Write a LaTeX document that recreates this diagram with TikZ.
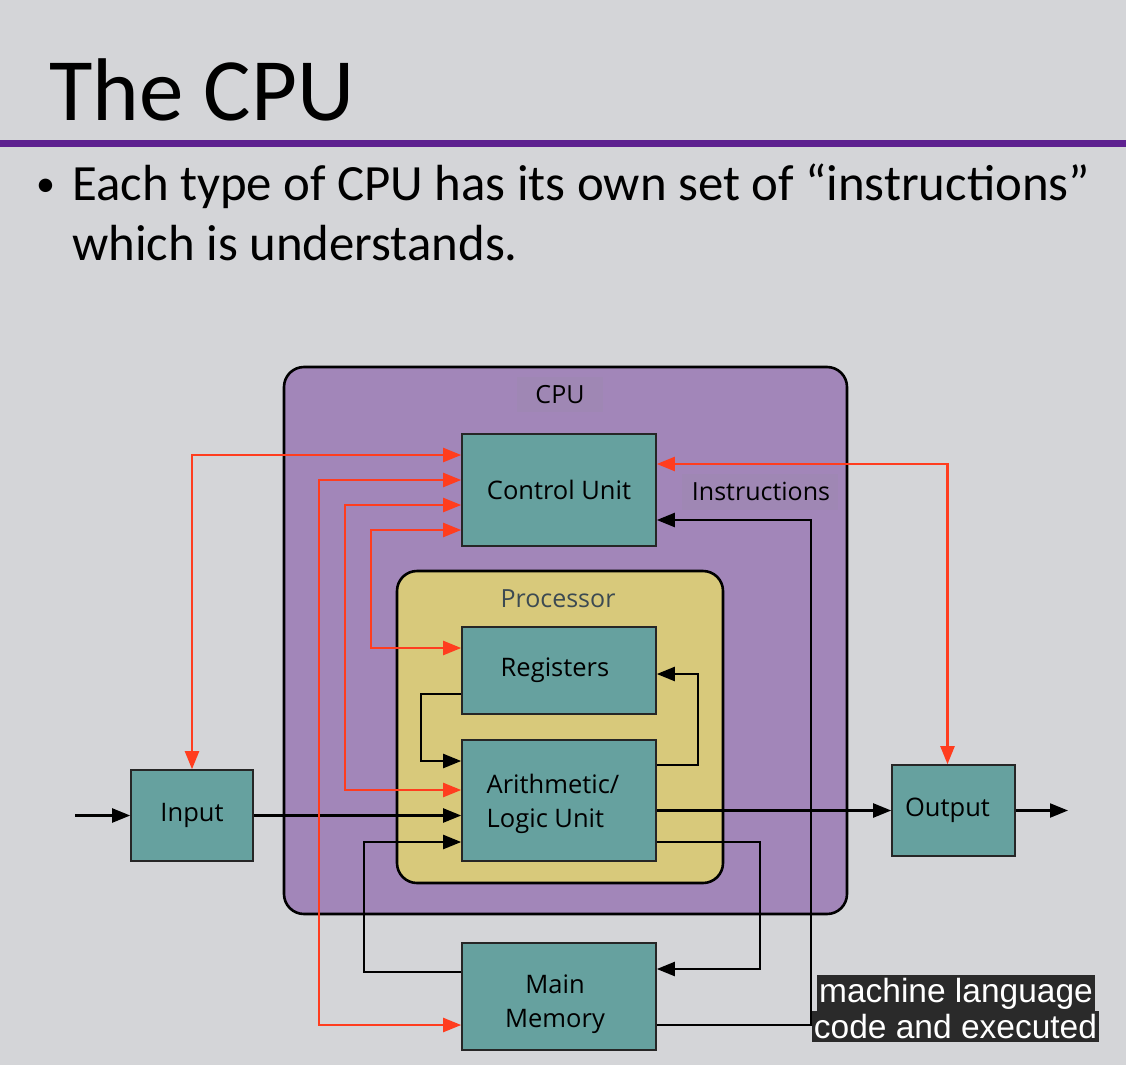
\documentclass[tikz,border=0pt]{standalone}
\usepackage{fontspec}
\setmainfont{Carlito}
\newfontfamily\diagfont{Open Sans}
\newfontfamily\capfont{Liberation Sans}
\usetikzlibrary{arrows.meta,calc}
\definecolor{slidebg}{HTML}{D4D5D8}
\definecolor{rulepurple}{HTML}{5E2190}
\definecolor{cpufill}{HTML}{A286B9}
\definecolor{cpupatch}{HTML}{9F87B4}
\definecolor{unitfill}{HTML}{66A19F}
\definecolor{procfill}{HTML}{D8C97B}
\definecolor{ctrlred}{HTML}{FF3D1F}
\definecolor{proctext}{HTML}{3C4A52}
\definecolor{capbg}{HTML}{2A2A2A}
\tikzset{
  unit/.style={draw=black!85, line width=1.6pt, fill=unitfill, inner sep=0pt,
    font=\diagfont\fontsize{25.5}{34}\selectfont, align=center},
  arrowtip/.style={-{Triangle[length=18pt,width=14pt]}},
  biarrowtip/.style={{Triangle[length=18pt,width=14pt]}-{Triangle[length=18pt,width=14pt]}},
  dataline/.style={draw=black, line width=2.2pt, arrowtip},
  ctrlline/.style={draw=ctrlred, line width=2.2pt, biarrowtip},
  boxlabel/.style={font=\diagfont\fontsize{25}{30}\selectfont, inner sep=0pt},
  caption/.style={fill=capbg, text=white, font=\capfont\fontsize{33.5}{36}\selectfont,
    inner xsep=2pt, inner ysep=3pt}
}
% two-line unit text, drawn #1 lower without changing its box
\newcommand{\unittext}[4]{\raisebox{-#1}[\height][\depth]{\begin{tabular}{@{}#2@{}}#3\\#4\end{tabular}}}
\begin{document}
\begin{tikzpicture}[x=1pt,y=-1pt]
  % slide background
  \fill[slidebg] (0,0) rectangle (1126,1065);
  \useasboundingbox (0,0) rectangle (1126,1065);

  % heading and rule
  \node[anchor=base west, inner sep=0pt, font=\fontsize{89}{100}\selectfont] (title) at (49,120) {The CPU};
  \fill[rulepurple] (0,140) rectangle (1126,147);

  % bullet text
  \node[anchor=base west, inner sep=0pt, font=\fontsize{38}{58}\selectfont] (bul) at (36,196) {\textbullet};
  \node[anchor=base west, inner sep=0pt, font=\fontsize{50.8}{60}\selectfont] (line1) at (72,200) {Each type of CPU has its own set of “instructions”};
  \node[anchor=base west, inner sep=0pt, font=\fontsize{50.8}{60}\selectfont] (line2) at (72,260) {which is understands.};

  % CPU enclosure
  \draw[fill=cpufill, line width=2.6pt, rounded corners=20pt] (284,367) rectangle (847,914);
  \fill[cpupatch] (517,377) rectangle (603,412);
  \fill[cpupatch] (682,474) rectangle (838,510);
  \node[boxlabel] (cpulbl) at (560,395) {CPU};
  \node[boxlabel] (instr) at (761,491) {Instructions};

  % processor enclosure
  \draw[fill=procfill, line width=2.6pt, rounded corners=20pt] (397,571) rectangle (723,883);
  \node[boxlabel, text=proctext] (proclbl) at (558,599) {Processor};

  % functional units
  \node[unit, minimum width=194pt, minimum height=112pt] (cu)   at (559,490)   {Control Unit};
  \node[unit, minimum width=194pt, minimum height=87pt]  (reg)  at (559,670.5) {\hspace*{-8pt}Registers};
  \node[unit, minimum width=194pt, minimum height=121pt] (alu)  at (559,800.5) {\hspace*{-12pt}\unittext{3pt}{l}{Arithmetic/}{Logic Unit}};
  \node[unit, minimum width=122pt, minimum height=91pt]  (inp)  at (192,815.5) {Input};
  \node[unit, minimum width=123pt, minimum height=91pt]  (outp) at (953.5,810.5) {\hspace*{-12pt}Output};
  \node[unit, minimum width=194pt, minimum height=107pt] (mem)  at (559,996.5) {\hspace*{-8pt}\unittext{7pt}{c}{Main}{Memory}};

  \coordinate (src) at (75,815.5);
  \coordinate (snk) at (1068,810.5);

  % data paths
  \draw[dataline] (src) -- (inp.west);
  \draw[dataline] (inp.east) -- (inp.east -| alu.west);
  \draw[dataline] (outp.west -| alu.east) -- (outp.west);
  \draw[dataline] (outp.east) -- (snk);
  \draw[dataline] ([yshift=-23.5]reg.west) -- ++(-40,0) |- ([yshift=39.5]alu.west);
  \draw[dataline] ([yshift=35.5]alu.east) -- ++(41,0) |- ([yshift=-3.5]reg.east);
  \draw[dataline] ([yshift=-41.5]alu.east) -- ++(103,0) |- ([yshift=27.5]mem.east);
  \draw[dataline] ([yshift=24.5]mem.west) -- ++(-97,0) |- ([yshift=-41.5]alu.west);
  \draw[dataline] ([yshift=-28.5]mem.east) -- ++(154,0) |- ([yshift=-30]cu.east);

  % control paths
  \draw[ctrlline] (inp.north) |- ([yshift=35]cu.west);
  \draw[ctrlline] ([yshift=10]cu.west) -- ++(-142,0) |- ([yshift=-28.5]mem.west);
  \draw[ctrlline] ([yshift=-15]cu.west) -- ++(-116,0) |- ([yshift=10.5]alu.west);
  \draw[ctrlline] ([yshift=-40]cu.west) -- ++(-90,0) |- ([yshift=22.5]reg.west);
  \draw[ctrlline] ([yshift=26]cu.east) -| ([xshift=-6]outp.north);

  % subtitle overlay
  \node[caption, anchor=north] (cap1) at (956,975) {machine language};
  \node[caption, anchor=north] (cap2) at (955.5,1011) {code and executed};
\end{tikzpicture}
\end{document}
